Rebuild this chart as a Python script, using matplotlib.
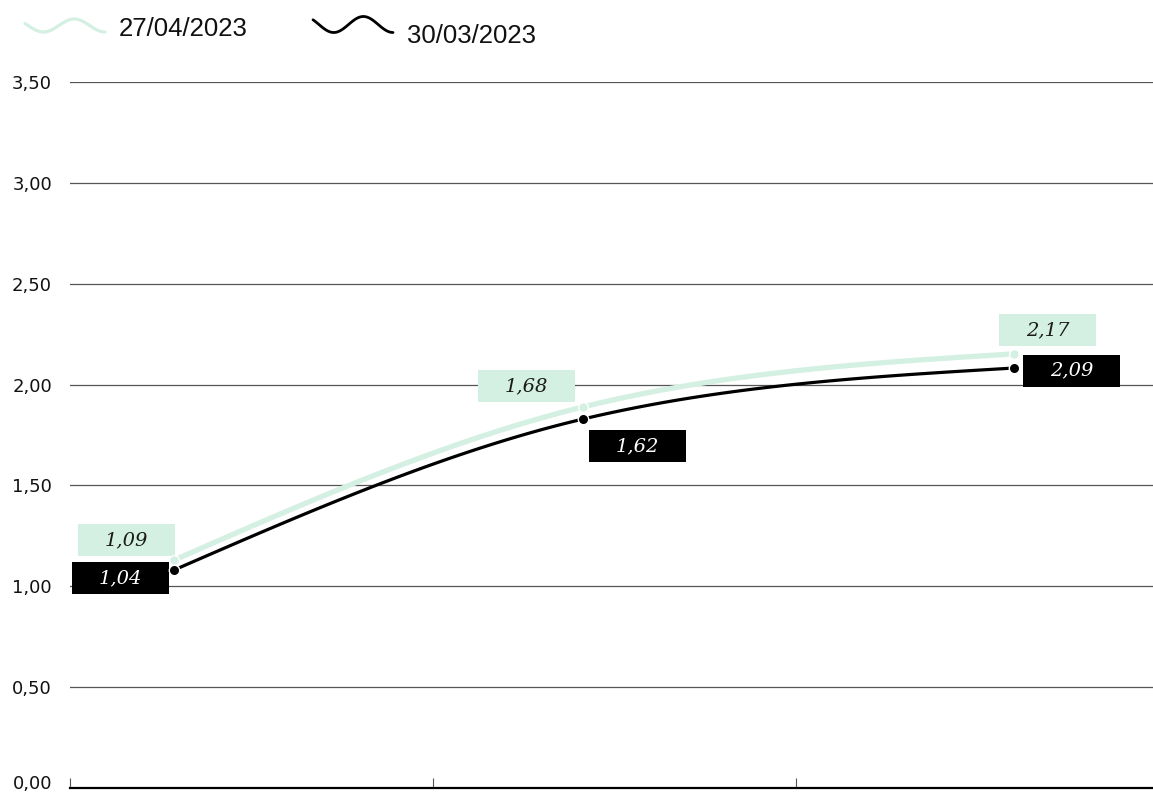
import numpy as np
import matplotlib
matplotlib.use("Agg")
import matplotlib.pyplot as plt
from matplotlib.patches import Rectangle
from matplotlib.lines import Line2D
from matplotlib.transforms import ScaledTranslation

# ---- data ----
x_pos = [0.287, 1.413, 2.600]
series_new_name = "27/04/2023"
series_old_name = "30/03/2023"
series_new = [1.130, 1.889, 2.152]
series_old = [1.081, 1.829, 2.082]
labels_new = ["1,09", "1,68", "2,17"]
labels_old = ["1,04", "1,62", "2,09"]
y_ticks = [0.0, 0.5, 1.0, 1.5, 2.0, 2.5, 3.0, 3.5]
y_tick_labels = ["0,00", "0,50", "1,00", "1,50", "2,00", "2,50", "3,00", "3,50"]
x_ticks = [0, 1, 2, 3]

LIGHT = "#d4f0e2"
W, H = 1153, 792


def monotone(xs, ys, n=60):
    xs = np.asarray(xs, float)
    ys = np.asarray(ys, float)
    m = len(xs)
    h = np.diff(xs)
    s = np.diff(ys) / h
    t = np.zeros(m)
    for i in range(1, m - 1):
        p = (s[i - 1] * h[i] + s[i] * h[i - 1]) / (h[i - 1] + h[i])
        t[i] = (np.sign(s[i - 1]) + np.sign(s[i])) * min(abs(s[i - 1]), abs(s[i]), 0.5 * abs(p))
    t[0] = (3 * s[0] - t[1]) / 2
    t[-1] = (3 * s[-1] - t[-2]) / 2
    px, py = [], []
    for i in range(m - 1):
        u = np.linspace(0, 1, n)
        h00 = 2 * u**3 - 3 * u**2 + 1
        h10 = u**3 - 2 * u**2 + u
        h01 = -2 * u**3 + 3 * u**2
        h11 = u**3 - u**2
        px.append(xs[i] + u * h[i])
        py.append(h00 * ys[i] + h10 * h[i] * t[i] + h01 * ys[i + 1] + h11 * h[i] * t[i + 1])
    return np.concatenate(px), np.concatenate(py)


fig = plt.figure(figsize=(W / 100, H / 100), dpi=100)
ax = fig.add_axes([70 / W, 4 / H, 1089 / W, 706 / H])
ax.set_xlim(0, 3)
ax.set_ylim(0, 3.5)

for sp in ["left", "right", "top"]:
    ax.spines[sp].set_visible(False)
ax.spines["bottom"].set_color("#000")
ax.spines["bottom"].set_linewidth(1.6)
ax.spines["bottom"].set_zorder(3)

ax.set_yticks(y_ticks)
ax.set_yticklabels(y_tick_labels, fontsize=13, color="#111", family="DejaVu Sans")
ax.tick_params(axis="y", length=0, pad=13)
ax.set_xticks(x_ticks)
ax.set_xticklabels([])
ax.tick_params(axis="x", direction="in", length=7.2, width=0.8, color="#555")
ax.grid(axis="y", color="#555", linewidth=0.9, zorder=1)
ax.set_axisbelow(True)

# nudge the bottom tick label up so it is not cut at the figure edge
lbl0 = ax.get_yticklabels()[0]
lbl0.set_transform(lbl0.get_transform() + ScaledTranslation(0, 6 / 100, fig.dpi_scale_trans))

# curves
cx, cy = monotone(x_pos, series_new)
ax.plot(cx, cy, color=LIGHT, lw=3.8, solid_capstyle="round", zorder=5)
cx, cy = monotone(x_pos, series_old)
ax.plot(cx, cy, color="#000", lw=2.3, solid_capstyle="round", zorder=5)
ax.plot(x_pos, series_new, "o", ms=7, mfc=LIGHT, mec="white", mew=1.0, zorder=6)
ax.plot(x_pos, series_old, "o", ms=7.5, mfc="#000", mec="white", mew=1.0, zorder=6)

# labels
off_new = [(-47.5, -20), (-56.5, -21), (33.5, -24)]
off_old = [(-53.5, 8.5), (54.5, 27), (57.5, 2.5)]
bw, bh = 97, 32
inv = ax.transData.inverted()


def box(x, y, off, text, fc, tc):
    dx, dy = ax.transData.transform((x, y))
    cxp = dx + off[0]
    cyp = dy - off[1]
    (x0, y0) = inv.transform((cxp - bw / 2, cyp - bh / 2))
    (x1, y1) = inv.transform((cxp + bw / 2, cyp + bh / 2))
    ax.add_patch(Rectangle((x0, y0), x1 - x0, y1 - y0, facecolor=fc, edgecolor="none", zorder=4))
    xc, yc = inv.transform((cxp, cyp))
    ax.text(xc, yc, text, ha="center", va="center", fontsize=14, style="italic",
            family="DejaVu Serif", color=tc, zorder=4.5)


for x, y, o, t in zip(x_pos, series_new, off_new, labels_new):
    box(x, y, o, t, LIGHT, "#1a1a1a")
for x, y, o, t in zip(x_pos, series_old, off_old, labels_old):
    box(x, y, o, t, "#000", "white")

# legend
def wave(x0, x1, yc, amp, t0, color, lw):
    t = np.linspace(t0, 3 * np.pi, 100)
    xs = x0 + (t - t0) / (3 * np.pi - t0) * (x1 - x0)
    ys = yc - amp * np.cos(t)
    fig.add_artist(Line2D(xs / W, 1 - ys / H, color=color, lw=lw, transform=fig.transFigure,
                          solid_capstyle="round"))


wave(25, 105, 25.5, 6.5, 0.4 * np.pi, LIGHT, 2.3)
fig.text(119 / W, 1 - 36 / H, series_new_name, fontsize=18.5, family="Liberation Sans",
         color="#111", va="baseline", ha="left")
wave(313, 393, 24.5, 8.0, 0.3 * np.pi, "#000", 2.0)
fig.text(407 / W, 1 - 43 / H, series_old_name, fontsize=18.5, family="Liberation Sans",
         color="#111", va="baseline", ha="left")

fig.savefig("out.png", dpi=100)
